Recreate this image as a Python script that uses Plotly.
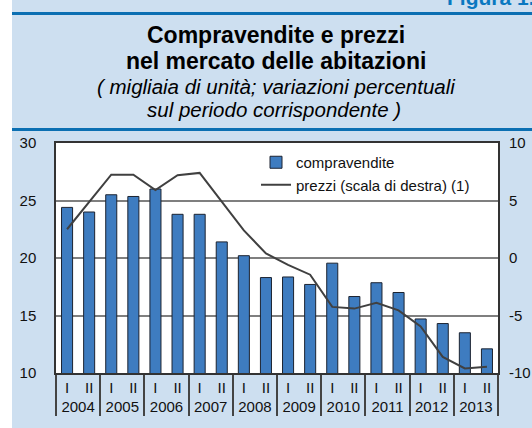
import plotly.graph_objects as go

years = ["2004", "2005", "2006", "2007", "2008", "2009", "2010", "2011", "2012", "2013"]
halves = ["I", "II"]
compravendite = [24.4, 24.0, 25.5, 25.35, 26.0, 23.8, 23.8, 21.4, 20.2, 18.3,
                 18.35, 17.7, 19.55, 16.65, 17.85, 17.0, 14.7, 14.3, 13.5, 12.1]
prezzi = [2.5, 4.9, 7.25, 7.25, 5.9, 7.2, 7.4, 4.9, 2.4, 0.4,
          -0.6, -1.45, -4.25, -4.4, -3.9, -4.55, -5.95, -8.6, -9.6, -9.45]
left_ticks = [10, 15, 20, 25, 30]
right_ticks = [-10, -5, 0, 5, 10]
right_labels = ["-10", "-5", "0", "5", "10"]

x_year = [y for y in years for _ in halves]
x_half = [h for _ in years for h in halves]

W, H = 532, 428
L, R, T, B = 56, 34, 143, 55
PH = H - T - B
PW = W - L - R
PANEL = "#cddff0"
BLUE = "#0b6fb2"
FONT = "Liberation Sans, Arial, sans-serif"


def py(p):
    # pixel row -> paper y
    return (H - B - p) / PH


def px_(p):
    return (p - L) / PW


fig = go.Figure()
fig.add_trace(go.Bar(
    x=[x_year, x_half], y=compravendite, name="compravendite",
    marker=dict(color="#3e7cc0", line=dict(color="#1c2330", width=1)),
    width=0.5,
))
fig.add_trace(go.Scatter(
    x=[x_year, x_half], y=prezzi, name="prezzi (scala di destra) (1)",
    mode="lines", yaxis="y2", line=dict(color="#404040", width=2),
))

shapes = [
    dict(type="rect", xref="paper", yref="paper", x0=px_(0), x1=px_(12), y0=py(H), y1=py(0),
         fillcolor="white", line=dict(width=0), layer="below"),
    dict(type="line", xref="paper", yref="paper", x0=px_(12), x1=px_(W), y0=py(13.5), y1=py(13.5),
         line=dict(color=BLUE, width=3)),
    dict(type="line", xref="paper", yref="paper", x0=px_(12), x1=px_(W), y0=py(129.5), y1=py(129.5),
         line=dict(color=BLUE, width=3)),
]

annotations = [
    dict(text="<b>Figura 1.</b>", x=px_(536), y=py(10), xanchor="right", yanchor="bottom",
         font=dict(size=21, color="#0a78c0")),
    dict(text="<b>Compravendite e prezzi</b>", x=px_(276), y=py(35), yanchor="middle",
         font=dict(size=23, color="black")),
    dict(text="<b>nel mercato delle abitazioni</b>", x=px_(276), y=py(61), yanchor="middle",
         font=dict(size=23, color="black")),
    dict(text="<i>( migliaia di unità; variazioni percentuali</i>", x=px_(276), y=py(86),
         yanchor="middle", font=dict(size=20.5, color="black")),
    dict(text="<i>sul periodo corrispondente )</i>", x=px_(274), y=py(109),
         yanchor="middle", font=dict(size=20.5, color="black")),
]
for a in annotations:
    a.update(xref="paper", yref="paper", showarrow=False, borderpad=0)
    a.setdefault("xanchor", "center")

fig.update_layout(
    width=W, height=H,
    margin=dict(l=L, r=R, t=T, b=B, pad=0, autoexpand=False),
    paper_bgcolor=PANEL, plot_bgcolor="white",
    font=dict(family=FONT, size=15, color="#111"),
    shapes=shapes, annotations=annotations,
    showlegend=True,
    legend=dict(x=px_(256), y=py(146), xanchor="left", yanchor="top",
                bgcolor="rgba(255,255,255,0)", font=dict(size=15, color="#111"),
                tracegroupgap=0, itemwidth=30),
    xaxis=dict(type="multicategory", showline=True, linecolor="#333", linewidth=1.5,
               mirror=True, showgrid=False, showdividers=True, dividercolor="#444",
               dividerwidth=1.5, tickfont=dict(size=15), ticks="", automargin=False),
    yaxis=dict(range=[10, 30], tickvals=left_ticks, showgrid=True, gridcolor="#7f7f7f",
               gridwidth=1.5, showline=True, linecolor="#333", linewidth=1.5, mirror=True,
               ticks="", ticklabelstandoff=15, zeroline=False, automargin=False),
    yaxis2=dict(range=[-10, 10], tickvals=right_ticks, ticktext=right_labels, overlaying="y",
                side="right", showgrid=False, ticks="", ticklabelstandoff=10,
                zeroline=False, showline=False, automargin=False),
    bargap=0.5,
)

# the page body has a default margin; remove it so the figure fills the window
fig.write_html("out.html", config={"displayModeBar": False},
               post_script="document.body.style.margin='0';")
